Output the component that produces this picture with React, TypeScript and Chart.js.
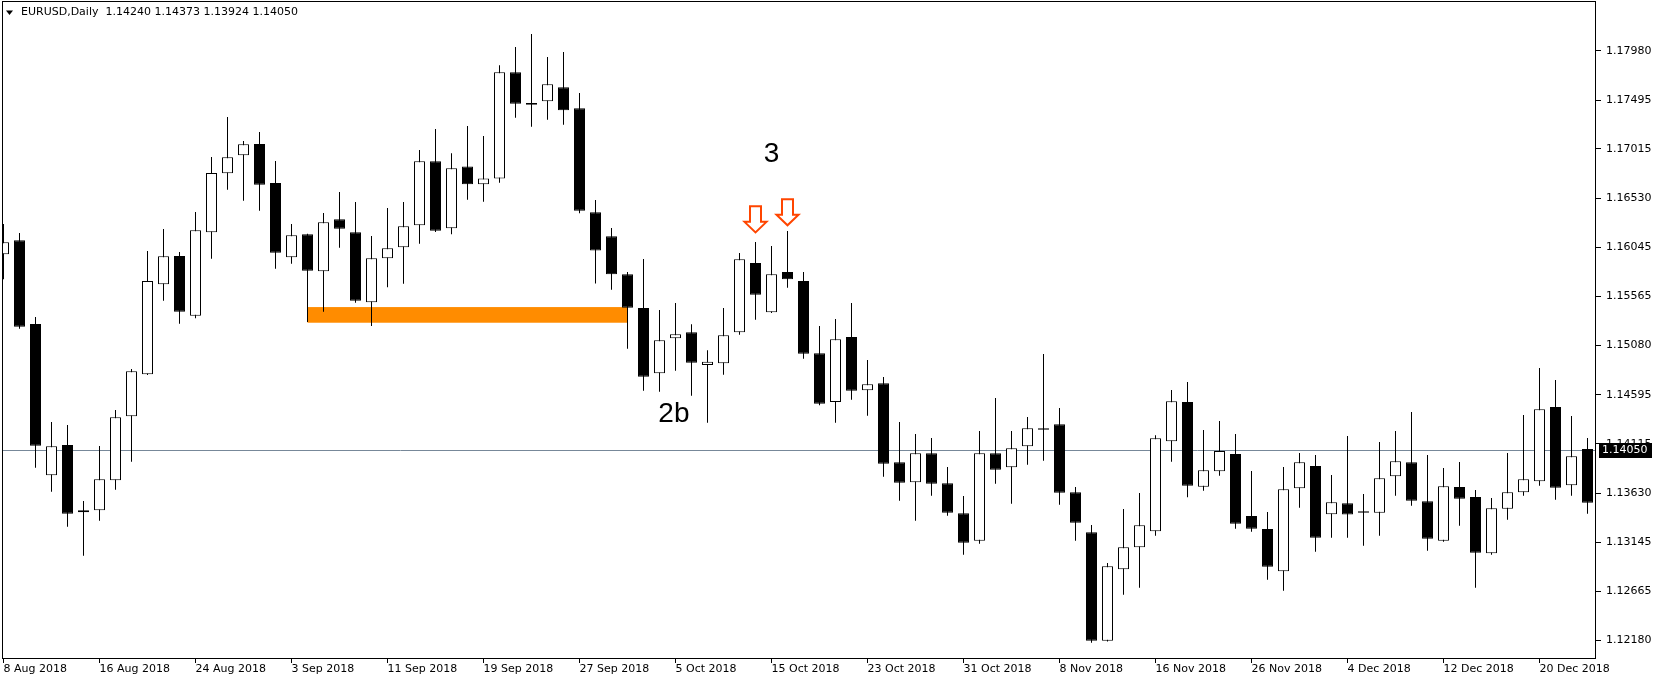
import React, { useEffect, useRef } from "react";
import { Chart, registerables } from "chart.js";

Chart.register(...registerables);

// ---- data -----------------------------------------------------------------
const dates = [
  "8 Aug 2018", "9 Aug 2018", "10 Aug 2018", "13 Aug 2018", "14 Aug 2018", "15 Aug 2018",
  "16 Aug 2018", "17 Aug 2018", "20 Aug 2018", "21 Aug 2018", "22 Aug 2018", "23 Aug 2018",
  "24 Aug 2018", "27 Aug 2018", "28 Aug 2018", "29 Aug 2018", "30 Aug 2018", "31 Aug 2018",
  "3 Sep 2018", "4 Sep 2018", "5 Sep 2018", "6 Sep 2018", "7 Sep 2018", "10 Sep 2018",
  "11 Sep 2018", "12 Sep 2018", "13 Sep 2018", "14 Sep 2018", "17 Sep 2018", "18 Sep 2018",
  "19 Sep 2018", "20 Sep 2018", "21 Sep 2018", "24 Sep 2018", "25 Sep 2018", "26 Sep 2018",
  "27 Sep 2018", "28 Sep 2018", "1 Oct 2018", "2 Oct 2018", "3 Oct 2018", "4 Oct 2018",
  "5 Oct 2018", "8 Oct 2018", "9 Oct 2018", "10 Oct 2018", "11 Oct 2018", "12 Oct 2018",
  "15 Oct 2018", "16 Oct 2018", "17 Oct 2018", "18 Oct 2018", "19 Oct 2018", "22 Oct 2018",
  "23 Oct 2018", "24 Oct 2018", "25 Oct 2018", "26 Oct 2018", "29 Oct 2018", "30 Oct 2018",
  "31 Oct 2018", "1 Nov 2018", "2 Nov 2018", "5 Nov 2018", "6 Nov 2018", "7 Nov 2018",
  "8 Nov 2018", "9 Nov 2018", "12 Nov 2018", "13 Nov 2018", "14 Nov 2018", "15 Nov 2018",
  "16 Nov 2018", "19 Nov 2018", "20 Nov 2018", "21 Nov 2018", "22 Nov 2018", "23 Nov 2018",
  "26 Nov 2018", "27 Nov 2018", "28 Nov 2018", "29 Nov 2018", "30 Nov 2018", "3 Dec 2018",
  "4 Dec 2018", "5 Dec 2018", "6 Dec 2018", "7 Dec 2018", "10 Dec 2018", "11 Dec 2018",
  "12 Dec 2018", "13 Dec 2018", "14 Dec 2018", "17 Dec 2018", "18 Dec 2018", "19 Dec 2018",
  "20 Dec 2018", "21 Dec 2018", "24 Dec 2018", "26 Dec 2018",
];

const open = [
  1.15978, 1.16116, 1.15292, 1.13804, 1.14102, 1.13440, 1.13460, 1.13755, 1.14384, 1.14798,
  1.15683, 1.15961, 1.15374, 1.16194, 1.16775, 1.16952, 1.17063, 1.16679, 1.15948, 1.16175,
  1.15811, 1.16322, 1.16194, 1.15506, 1.15939, 1.16047, 1.16263, 1.16893, 1.16234, 1.16843,
  1.16666, 1.16725, 1.17768, 1.17466, 1.17483, 1.17621, 1.17414, 1.16391, 1.16155, 1.15781,
  1.15450, 1.14807, 1.15152, 1.15211, 1.14889, 1.14906, 1.15211, 1.15892, 1.15407, 1.15804,
  1.15715, 1.15004, 1.14525, 1.15164, 1.14640, 1.14709, 1.13932, 1.13735, 1.14021, 1.13725,
  1.13430, 1.13161, 1.14021, 1.13883, 1.14089, 1.14266, 1.14306, 1.13637, 1.13243, 1.12177,
  1.12880, 1.13096, 1.13253, 1.14139, 1.14525, 1.13692, 1.13843, 1.14014, 1.13404, 1.13276,
  1.12860, 1.13676, 1.13896, 1.13421, 1.13529, 1.13450, 1.13436, 1.13794, 1.13932, 1.13548,
  1.13161, 1.13689, 1.13591, 1.13037, 1.13476, 1.13637, 1.13745, 1.14476, 1.13706, 1.14063,
];

const high = [
  1.16276, 1.16187, 1.15361, 1.14328, 1.14299, 1.13551, 1.14092, 1.14446, 1.14850, 1.16010,
  1.16227, 1.16000, 1.16394, 1.16935, 1.17328, 1.17092, 1.17181, 1.16896, 1.16276, 1.16180,
  1.16384, 1.16591, 1.16492, 1.16158, 1.16433, 1.16492, 1.17004, 1.17210, 1.16971, 1.17240,
  1.17142, 1.17837, 1.18017, 1.18145, 1.17919, 1.17968, 1.17564, 1.16512, 1.16237, 1.15804,
  1.15932, 1.15430, 1.15499, 1.15289, 1.15034, 1.15450, 1.15991, 1.16099, 1.16060, 1.16207,
  1.15804, 1.15273, 1.15341, 1.15499, 1.14938, 1.14771, 1.14328, 1.14210, 1.14171, 1.13886,
  1.13601, 1.14240, 1.14564, 1.14240, 1.14378, 1.14997, 1.14466, 1.13689, 1.13315, 1.12942,
  1.13473, 1.13630, 1.14198, 1.14643, 1.14722, 1.14250, 1.14338, 1.14210, 1.13846, 1.13443,
  1.13886, 1.14023, 1.14004, 1.13807, 1.14191, 1.13620, 1.14132, 1.14240, 1.14427, 1.14004,
  1.13876, 1.13935, 1.13660, 1.13581, 1.14023, 1.14397, 1.14860, 1.14742, 1.14387, 1.14171,
];

const low = [
  1.15732, 1.15246, 1.13879, 1.13643, 1.13299, 1.13013, 1.13358, 1.13662, 1.13938, 1.14790,
  1.15521, 1.15295, 1.15348, 1.15935, 1.16613, 1.16505, 1.16407, 1.15836, 1.15885, 1.15312,
  1.15413, 1.16043, 1.15502, 1.15273, 1.15653, 1.15689, 1.16082, 1.16197, 1.16175, 1.16515,
  1.16495, 1.16682, 1.17321, 1.17233, 1.17302, 1.17253, 1.16381, 1.15691, 1.15630, 1.15049,
  1.14636, 1.14626, 1.14833, 1.14587, 1.14321, 1.14794, 1.15187, 1.15335, 1.15400, 1.15649,
  1.14951, 1.14493, 1.14321, 1.14548, 1.14390, 1.13790, 1.13554, 1.13358, 1.13603, 1.13407,
  1.13023, 1.13131, 1.13722, 1.13525, 1.13908, 1.13948, 1.13515, 1.13161, 1.12158, 1.12169,
  1.12630, 1.12699, 1.13210, 1.13938, 1.13588, 1.13653, 1.13800, 1.13279, 1.13249, 1.12777,
  1.12669, 1.13485, 1.13053, 1.13190, 1.13190, 1.13112, 1.13210, 1.13603, 1.13505, 1.13062,
  1.13151, 1.13308, 1.12699, 1.13023, 1.13367, 1.13603, 1.13702, 1.13564, 1.13603, 1.13426,
];

const close = [
  1.16096, 1.15266, 1.14095, 1.14089, 1.13426, 1.13460, 1.13765, 1.14375, 1.14827, 1.15715,
  1.15958, 1.15413, 1.16214, 1.16778, 1.16932, 1.17060, 1.16662, 1.15994, 1.16165, 1.15817,
  1.16293, 1.16230, 1.15521, 1.15939, 1.16037, 1.16253, 1.16893, 1.16210, 1.16824, 1.16666,
  1.16725, 1.17768, 1.17459, 1.17449, 1.17650, 1.17394, 1.16407, 1.16015, 1.15781, 1.15453,
  1.14774, 1.15132, 1.15191, 1.14912, 1.14922, 1.15181, 1.15929, 1.15580, 1.15781, 1.15732,
  1.15000, 1.14508, 1.15142, 1.14636, 1.14699, 1.13918, 1.13731, 1.14021, 1.13722, 1.13436,
  1.13141, 1.14021, 1.13859, 1.14070, 1.14266, 1.14253, 1.13633, 1.13338, 1.12177, 1.12909,
  1.13096, 1.13312, 1.14168, 1.14532, 1.13702, 1.13853, 1.14043, 1.13328, 1.13279, 1.12905,
  1.13666, 1.13932, 1.13190, 1.13539, 1.13419, 1.13436, 1.13775, 1.13942, 1.13554, 1.13180,
  1.13696, 1.13574, 1.13043, 1.13480, 1.13637, 1.13765, 1.14453, 1.13682, 1.13991, 1.13535,
];

const xTickIndex = [0, 6, 12, 18, 24, 30, 36, 42, 48, 54, 60, 66, 72, 78, 84, 90, 96];
const yTicks = [
  1.1218, 1.12665, 1.13145, 1.1363, 1.14115, 1.14595, 1.1508, 1.15565, 1.16045, 1.1653,
  1.17015, 1.17495, 1.1798,
];

const headerSymbol = "EURUSD,Daily";
const headerOHLC = [1.1424, 1.14373, 1.13924, 1.1405];
const bidPrice = 1.1405;

const zoneIndex = [19, 39];
const zonePrice = [1.15305, 1.15459];

const arrowIndex = [47, 49];
const arrowPrice = [1.16194, 1.16263];

const noteText = ["3", "2b"];
const noteIndex = [48, 41.9];
const notePrice = [1.16964, 1.14407];

const yMin = 1.12007;
const yMax = 1.1846;
const xMin = -0.09375;
const xMax = 99.53125;

// ---- plugin -----------------------------------------------------------------
const FONT = "DejaVu Sans";

const overlay = {
  id: "mt4overlay",
  beforeDatasetsDraw(chart: any) {
    const { ctx, chartArea, scales } = chart;
    const x = scales.x;
    const y = scales.y;
    ctx.save();
    ctx.beginPath();
    ctx.rect(chartArea.left, chartArea.top, chartArea.right - chartArea.left, chartArea.bottom - chartArea.top);
    ctx.clip();
    // orange zone
    const x0 = x.getPixelForValue(zoneIndex[0]);
    const x1 = x.getPixelForValue(zoneIndex[1]);
    const y0 = y.getPixelForValue(zonePrice[1]);
    const y1 = y.getPixelForValue(zonePrice[0]);
    ctx.fillStyle = "#FF8C00";
    ctx.fillRect(x0, y0, x1 - x0, y1 - y0);
    // bid line
    const by = Math.round(y.getPixelForValue(bidPrice)) + 0.5;
    ctx.strokeStyle = "#778899";
    ctx.lineWidth = 1;
    ctx.beginPath();
    ctx.moveTo(chartArea.left, by);
    ctx.lineTo(chartArea.right, by);
    ctx.stroke();
    ctx.restore();
  },
  afterDatasetsDraw(chart: any) {
    const { ctx, chartArea, scales } = chart;
    const x = scales.x;
    const y = scales.y;
    ctx.save();
    // arrows
    for (let i = 0; i < arrowIndex.length; i++) {
      const cx = x.getPixelForValue(arrowIndex[i]);
      const ty = y.getPixelForValue(arrowPrice[i]);
      ctx.beginPath();
      ctx.moveTo(cx - 5.5, ty - 26);
      ctx.lineTo(cx + 5.5, ty - 26);
      ctx.lineTo(cx + 5.5, ty - 10.5);
      ctx.lineTo(cx + 11, ty - 10.5);
      ctx.lineTo(cx, ty);
      ctx.lineTo(cx - 11, ty - 10.5);
      ctx.lineTo(cx - 5.5, ty - 10.5);
      ctx.closePath();
      ctx.fillStyle = "#ffffff";
      ctx.fill();
      ctx.strokeStyle = "#FF4500";
      ctx.lineWidth = 2;
      ctx.lineJoin = "miter";
      ctx.stroke();
    }
    // notes
    ctx.fillStyle = "#000";
    ctx.font = "28px 'Liberation Sans'";
    ctx.textAlign = "center";
    ctx.textBaseline = "middle";
    for (let i = 0; i < noteText.length; i++) {
      ctx.fillText(noteText[i], x.getPixelForValue(noteIndex[i]), y.getPixelForValue(notePrice[i]));
    }
    // header
    ctx.beginPath();
    ctx.moveTo(6, 10.5);
    ctx.lineTo(13, 10.5);
    ctx.lineTo(9.5, 15);
    ctx.closePath();
    ctx.fill();
    ctx.font = `11px '${FONT}'`;
    ctx.textAlign = "left";
    ctx.fillText(`${headerSymbol}  ${headerOHLC.map((v) => v.toFixed(5)).join(" ")}`, 21, 12.5);
    // frame
    ctx.strokeStyle = "#000";
    ctx.lineWidth = 1;
    ctx.strokeRect(chartArea.left + 0.5, 1.5, chartArea.right - chartArea.left - 1, chartArea.bottom - 1);
    // bid price box
    const by = Math.round(y.getPixelForValue(bidPrice));
    ctx.fillStyle = "#000";
    ctx.fillRect(chartArea.right + 3, by - 7, 53, 15);
    ctx.fillStyle = "#fff";
    ctx.font = `11px '${FONT}'`;
    ctx.textBaseline = "middle";
    ctx.fillText(bidPrice.toFixed(5), chartArea.right + 6, by + 0.5);
    ctx.restore();
  },
};

export default function App() {
  const ref = useRef<HTMLCanvasElement | null>(null);

  useEffect(() => {
    if (!ref.current) return;
    const bodies = dates.map((_, i) => ({
      x: i,
      y: [Math.min(open[i], close[i]), Math.max(open[i], close[i])],
    }));
    const wicks = dates.map((_, i) => ({ x: i, y: [low[i], high[i]] }));
    const bodyColors = dates.map((_, i) => (close[i] >= open[i] ? "#ffffff" : "#000000"));

    const chart = new Chart(ref.current, {
      type: "bar",
      data: {
        datasets: [
          {
            data: bodies as any,
            backgroundColor: bodyColors,
            borderColor: "#000",
            borderWidth: 1,
            borderSkipped: false,
            barThickness: 11,
            grouped: false,
            inflateAmount: 0,
          } as any,
          {
            data: wicks as any,
            backgroundColor: "#000",
            borderWidth: 0,
            barThickness: 1,
            grouped: false,
            inflateAmount: 0,
          } as any,
        ],
      },
      options: {
        responsive: false,
        animation: false,
        events: [],
        layout: { padding: { left: 2, top: 2, right: 0, bottom: 0 } },
        plugins: { legend: { display: false }, tooltip: { enabled: false } },
        scales: {
          x: {
            type: "linear",
            min: xMin,
            max: xMax,
            offset: false,
            grid: {
              offset: false,
              drawOnChartArea: false,
              drawTicks: true,
              tickLength: 5,
              tickColor: "#000",
              color: "#000",
            },
            border: { display: false },
            ticks: {
              autoSkip: false,
              maxRotation: 0,
              minRotation: 0,
              align: "start",
              padding: 0,
              color: "#000",
              font: { family: FONT, size: 11 },
              callback: (v: any) => dates[Number(v)] ?? "",
            },
            afterBuildTicks: (s: any) => {
              s.ticks = xTickIndex.map((v) => ({ value: v }));
            },
            afterFit: (s: any) => {
              s.height = 24;
              s.paddingLeft = 0;
              s.paddingRight = 0;
            },
          } as any,
          y: {
            type: "linear",
            position: "right",
            min: yMin,
            max: yMax,
            grid: {
              drawOnChartArea: false,
              drawTicks: true,
              tickLength: 5,
              tickColor: "#000",
              color: "#000",
            },
            border: { display: false },
            ticks: {
              autoSkip: false,
              padding: 5,
              color: "#000",
              font: { family: FONT, size: 11 },
              callback: (v: any) => Number(v).toFixed(5),
            },
            afterBuildTicks: (s: any) => {
              s.ticks = yTicks.map((v) => ({ value: v }));
            },
            afterFit: (s: any) => {
              s.width = 64;
              s.paddingTop = 0;
              s.paddingBottom = 0;
            },
          } as any,
        },
      },
      plugins: [overlay],
    });
    return () => chart.destroy();
  }, []);

  return (
    <div style={{ position: "fixed", left: 0, top: 0, width: 1660, height: 682, background: "#fff" }}>
      <canvas ref={ref} width={1660} height={682} style={{ display: "block" }} />
    </div>
  );
}
